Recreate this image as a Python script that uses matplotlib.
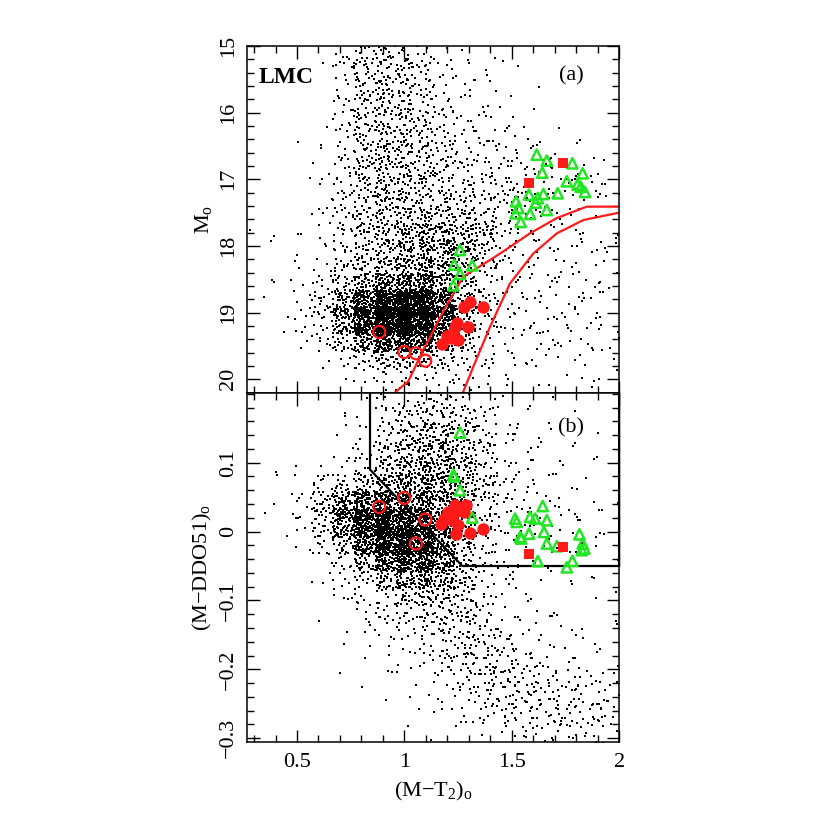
import numpy as np
import matplotlib.pyplot as plt
from matplotlib.ticker import MultipleLocator, FixedLocator, FuncFormatter

plt.rcParams['font.family'] = ['Liberation Serif', 'DejaVu Serif']
plt.rcParams['mathtext.fontset'] = 'custom'
plt.rcParams['mathtext.rm'] = 'Liberation Serif'
plt.rcParams['mathtext.it'] = 'Liberation Serif:italic'

# ---- field stars, read as counts per bin off the picture ----
# columns: (M-T2)o bins of width 0.1, left edges
bin_x = [0.3, 0.4, 0.5, 0.6, 0.7, 0.8, 0.9, 1.0, 1.1, 1.2, 1.3, 1.4, 1.5, 1.6, 1.7, 1.8, 1.9]
# panel (a): Mo bins of height 0.25, upper edges
bin_m = [15.0, 15.25, 15.5, 15.75, 16.0, 16.25, 16.5, 16.75, 17.0, 17.25, 17.5,
         17.75, 18.0, 18.25, 18.5, 18.75, 19.0, 19.25, 19.5, 19.75, 20.0]
counts_a = [
    [0, 0, 0, 1, 12, 22, 22, 12, 6, 3, 1, 1, 0, 0, 0, 0, 0],
    [0, 0, 0, 1, 9, 18, 18, 12, 6, 3, 2, 1, 0, 0, 0, 0, 0],
    [0, 0, 0, 1, 9, 18, 19, 12, 7, 4, 2, 1, 1, 0, 0, 0, 0],
    [0, 0, 0, 1, 9, 18, 20, 14, 8, 4, 3, 2, 1, 0, 0, 0, 0],
    [0, 0, 0, 1, 10, 19, 22, 16, 10, 6, 4, 3, 1, 1, 0, 0, 0],
    [0, 0, 0, 2, 10, 20, 23, 17, 11, 7, 5, 4, 3, 1, 1, 0, 0],
    [0, 0, 1, 2, 11, 21, 24, 19, 13, 9, 7, 5, 4, 3, 2, 1, 1],
    [0, 0, 0, 2, 11, 21, 24, 20, 14, 10, 8, 7, 6, 5, 5, 4, 3],
    [0, 0, 1, 3, 11, 20, 23, 20, 16, 12, 10, 9, 8, 6, 6, 5, 4],
    [0, 0, 1, 3, 11, 20, 23, 22, 19, 16, 14, 12, 9, 5, 4, 3, 2],
    [0, 1, 1, 3, 12, 20, 24, 26, 26, 24, 20, 13, 6, 3, 3, 2, 2],
    [1, 1, 2, 4, 12, 20, 27, 36, 42, 38, 26, 9, 4, 3, 3, 3, 2],
    [0, 1, 2, 5, 13, 22, 30, 42, 48, 40, 20, 7, 4, 3, 3, 3, 3],
    [0, 1, 3, 6, 15, 26, 36, 46, 46, 30, 13, 6, 4, 4, 3, 3, 3],
    [1, 1, 4, 11, 30, 60, 85, 90, 65, 26, 10, 5, 4, 4, 4, 3, 3],
    [0, 1, 5, 15, 70, 160, 230, 230, 150, 40, 12, 5, 4, 4, 4, 3, 3],
    [0, 1, 5, 15, 75, 180, 250, 240, 150, 40, 12, 5, 4, 4, 4, 3, 3],
    [0, 1, 4, 10, 40, 100, 140, 130, 85, 26, 9, 4, 4, 3, 3, 3, 3],
    [0, 0, 1, 3, 10, 24, 36, 36, 26, 12, 6, 4, 3, 3, 3, 3, 3],
    [0, 0, 0, 1, 3, 6, 9, 10, 9, 6, 4, 3, 2, 2, 2, 2, 2],
    [0, 0, 0, 0, 1, 2, 4, 4, 4, 3, 2, 2, 1, 1, 1, 1, 1],
]
# panel (b): (M-DDO51)o bins of height 0.025, lower edges
bin_c = [0.175, 0.15, 0.125, 0.1, 0.075, 0.05, 0.025, 0.0, -0.025, -0.05,
         -0.075, -0.1, -0.125, -0.15, -0.175, -0.2, -0.225, -0.25, -0.275, -0.3]
counts_b = [
    [0, 0, 0, 0, 1, 2, 8, 13, 16, 12, 6, 2, 1, 1, 0, 0, 0],
    [0, 0, 0, 0, 1, 4, 13, 21, 22, 18, 10, 3, 2, 1, 1, 0, 0],
    [0, 0, 0, 1, 2, 6, 19, 28, 30, 25, 13, 4, 2, 2, 1, 1, 0],
    [0, 0, 1, 1, 3, 9, 26, 36, 39, 30, 17, 6, 3, 2, 1, 1, 1],
    [0, 1, 1, 2, 5, 14, 36, 45, 47, 36, 19, 7, 4, 3, 2, 1, 1],
    [0, 1, 3, 14, 30, 40, 55, 57, 55, 40, 20, 8, 4, 3, 2, 2, 1],
    [1, 2, 10, 40, 90, 120, 105, 85, 62, 36, 15, 8, 5, 4, 3, 2, 1],
    [0, 1, 6, 26, 95, 170, 165, 130, 80, 36, 14, 7, 5, 4, 3, 2, 2],
    [0, 1, 5, 12, 46, 130, 175, 155, 90, 32, 11, 5, 4, 3, 2, 2, 2],
    [0, 0, 1, 6, 18, 58, 115, 140, 92, 28, 10, 4, 3, 3, 2, 1, 1],
    [0, 0, 1, 3, 8, 24, 46, 72, 62, 28, 9, 3, 2, 2, 1, 1, 1],
    [0, 0, 0, 1, 4, 10, 20, 30, 30, 20, 9, 4, 2, 1, 1, 1, 1],
    [0, 0, 0, 1, 3, 5, 10, 15, 19, 18, 10, 4, 2, 2, 1, 1, 1],
    [0, 0, 0, 1, 2, 4, 5, 8, 13, 16, 12, 5, 3, 2, 2, 1, 1],
    [0, 0, 0, 0, 1, 2, 4, 5, 9, 15, 15, 9, 4, 3, 2, 2, 1],
    [0, 0, 0, 0, 1, 1, 2, 4, 7, 12, 16, 13, 8, 4, 3, 3, 2],
    [0, 0, 0, 0, 0, 1, 1, 2, 4, 8, 12, 14, 12, 8, 6, 5, 4],
    [0, 0, 0, 0, 0, 0, 1, 1, 3, 5, 8, 12, 13, 11, 9, 8, 7],
    [0, 0, 0, 0, 0, 0, 0, 1, 1, 3, 5, 8, 10, 11, 10, 9, 8],
    [0, 0, 0, 0, 0, 0, 0, 0, 1, 1, 3, 5, 7, 9, 9, 8, 6],
]

# ---- program stars ----
# green triangles
tri_mt2_a = [1.616, 1.663, 1.782, 1.642, 1.830, 1.756, 1.806, 1.821, 1.841, 1.580,
             1.647, 1.621, 1.714, 1.520, 1.612, 1.663, 1.531, 1.518, 1.585, 1.542,
             1.259, 1.232, 1.316, 1.259, 1.228]
tri_m = [16.63, 16.72, 16.76, 16.90, 16.91, 17.03, 17.08, 17.11, 17.19, 17.23,
         17.22, 17.28, 17.21, 17.33, 17.35, 17.46, 17.43, 17.51, 17.52, 17.64,
         18.06, 18.28, 18.29, 18.42, 18.59]
tri_mt2_b = [1.259, 1.228, 1.232, 1.259, 1.316, 1.515, 1.523, 1.585, 1.608, 1.644,
             1.663, 1.539, 1.544, 1.580, 1.650, 1.663, 1.710, 1.621, 1.815, 1.830,
             1.838, 1.826, 1.782, 1.756]
tri_ddo = [0.1435, 0.0826, 0.080, 0.0599, 0.0203, 0.0188, 0.014, 0.0212, 0.0188, 0.037,
           0.0164, -0.0078, -0.010, -0.003, -0.0006, -0.0174, -0.0213, -0.043, -0.004, -0.0174,
           -0.0246, -0.027, -0.0426, -0.052]
# red squares
sq_mt2 = [1.738, 1.582]
sq_m = [16.76, 17.06]
sq_ddo = [-0.0223, -0.0319]
# red filled circles
fc_mt2_a = [1.306, 1.278, 1.367, 1.243, 1.236, 1.298, 1.228, 1.197, 1.216, 1.251, 1.174]
fc_m = [18.84, 18.91, 18.91, 19.15, 19.22, 19.22, 19.31, 19.35, 19.38, 19.41, 19.47]
fc_mt2_b = [1.236, 1.285, 1.251, 1.204, 1.228, 1.279, 1.186, 1.171, 1.220, 1.251, 1.239, 1.306, 1.365]
fc_ddo = [0.0391, 0.038, 0.0309, 0.0284, 0.0261, 0.0284, 0.0188, 0.0116, 0.0164, 0.009, -0.003, -0.002, 0.003]
# red open circles
oc_mt2 = [0.883, 0.999, 1.054, 1.097]
oc_m = [19.29, 19.59, 19.61, 19.72]
oc_ddo = [0.0357, 0.0487, -0.0174, 0.0174]

# red boundary curves in panel (a)
curve1_x = [0.951, 1.018, 1.088, 1.181, 1.274, 1.399, 1.461, 1.585, 1.710, 1.849, 2.0]
curve1_m = [20.21, 20.03, 19.56, 18.98, 18.46, 18.21, 18.08, 17.81, 17.58, 17.41, 17.41]
curve2_x = [1.271, 1.321, 1.399, 1.492, 1.601, 1.710, 1.834, 2.0]
curve2_m = [20.21, 19.81, 19.21, 18.56, 18.11, 17.81, 17.61, 17.50]
# giant selection box in panel (b)
box_x = [0.84, 0.84, 1.27, 2.0, 2.0]
box_c = [0.2, 0.09, -0.05, -0.05, 0.2]


def vdc(n, base):
    q, denom = 0.0, 1.0
    while n:
        n, r = divmod(n, base)
        denom *= base
        q += r / denom
    return q


def stipple(x_left, y_low, dx, dy, counts):
    # spread each bin's count evenly over (a little beyond) the bin, shifted Halton layout
    xs, ys = [], []
    for i, row in enumerate(counts):
        for j, n in enumerate(row):
            start = 1 + (i * 31 + j * 17) * 13
            sx = (i * 0.6180339 + j * 0.4142136) % 1.0
            sy = (i * 0.2710 + j * 0.7320508) % 1.0
            for k in range(n):
                u = (vdc(start + k, 2) + sx) % 1.0
                v = (vdc(start + k, 3) + sy) % 1.0
                xs.append(x_left[j] + (u * 1.7 - 0.35) * dx)
                ys.append(y_low[i] + (v * 1.7 - 0.35) * dy)
    return np.array(xs), np.array(ys)


red = '#ff1a1a'
green = '#22e622'

fig = plt.figure(figsize=(8.3, 8.3), dpi=100)
ax_a = fig.add_axes([0.297, 0.5261, 0.449, 0.4185])
ax_b = fig.add_axes([0.297, 0.1064, 0.449, 0.4197], sharex=ax_a)

# panel (a)
fx, fy = stipple(bin_x, bin_m, 0.1, 0.25, counts_a)
ax_a.scatter(fx, fy, s=2.8, c='k', marker='s', linewidths=0, zorder=1)
ax_a.plot(curve1_x, curve1_m, color=red, lw=1.6, zorder=2)
ax_a.plot(curve2_x, curve2_m, color=red, lw=1.6, zorder=2)
ax_a.scatter(tri_mt2_a, tri_m, s=55, marker='^', facecolors='none', edgecolors=green, linewidths=1.8, zorder=3)
ax_a.scatter(sq_mt2, sq_m, s=45, marker='s', c=red, linewidths=0, zorder=3)
ax_a.scatter(fc_mt2_a, fc_m, s=80, marker='o', c=red, linewidths=0, zorder=3)
ax_a.scatter(oc_mt2, oc_m, s=75, marker='o', facecolors='none', edgecolors=red, linewidths=1.6, zorder=3)
ax_a.set_xlim(0.265, 2.0)
ax_a.set_ylim(20.21, 15.0)
ax_a.text(0.32, 15.55, 'LMC', fontsize=17, fontweight='bold')
ax_a.text(1.776, 15.45, '(a)', fontsize=16, ha='center', va='center')
ax_a.set_ylabel(r'M$_{\rm o}$', fontsize=16, labelpad=4)

# panel (b)
fx, fy = stipple(bin_x, bin_c, 0.1, 0.025, counts_b)
ax_b.scatter(fx, fy, s=2.8, c='k', marker='s', linewidths=0, zorder=1)
ax_b.plot(box_x, box_c, color='k', lw=1.6, zorder=2, clip_on=False)
ax_b.scatter(tri_mt2_b, tri_ddo, s=55, marker='^', facecolors='none', edgecolors=green, linewidths=1.8, zorder=3)
ax_b.scatter(sq_mt2, sq_ddo, s=45, marker='s', c=red, linewidths=0, zorder=3)
ax_b.scatter(fc_mt2_b, fc_ddo, s=80, marker='o', c=red, linewidths=0, zorder=3)
ax_b.scatter(oc_mt2, oc_ddo, s=75, marker='o', facecolors='none', edgecolors=red, linewidths=1.6, zorder=3)
ax_b.set_ylim(-0.305, 0.2006)
ax_b.text(1.776, 0.15, '(b)', fontsize=16, ha='center', va='center')
ax_b.set_ylabel(r'(M$-$DDO51)$_{\rm o}$', fontsize=16, labelpad=4)
ax_b.set_xlabel(r'(M$-$T$_2$)$_{\rm o}$', fontsize=16, labelpad=6)


def fmt(v, pos):
    v = round(v, 4)
    if abs(v) < 1e-9:
        return '0'
    return ('%g' % v).replace('-', '\u2212')


for ax in (ax_a, ax_b):
    ax.tick_params(which='both', direction='in', top=True, right=True, labelsize=16, width=1.0)
    ax.tick_params(which='major', length=9)
    ax.tick_params(which='minor', length=5)
    ax.tick_params(axis='y', labelrotation=90, pad=6)
    ax.tick_params(axis='x', pad=8)
    for sp in ax.spines.values():
        sp.set_linewidth(1.1)
    ax.xaxis.set_major_locator(MultipleLocator(0.5))
    ax.xaxis.set_minor_locator(MultipleLocator(0.1))
    ax.xaxis.set_major_formatter(FuncFormatter(fmt))
    ax.yaxis.set_major_formatter(FuncFormatter(fmt))

ax_a.yaxis.set_major_locator(MultipleLocator(1))
ax_a.yaxis.set_minor_locator(MultipleLocator(0.2))
ax_a.tick_params(axis='x', labelbottom=False)
ax_b.yaxis.set_major_locator(FixedLocator([-0.3, -0.2, -0.1, 0.0, 0.1]))
ax_b.yaxis.set_minor_locator(MultipleLocator(0.02))
for ax in (ax_a, ax_b):
    for lab in ax.get_yticklabels():
        lab.set_verticalalignment('center')

fig.savefig('out.png', dpi=100)
